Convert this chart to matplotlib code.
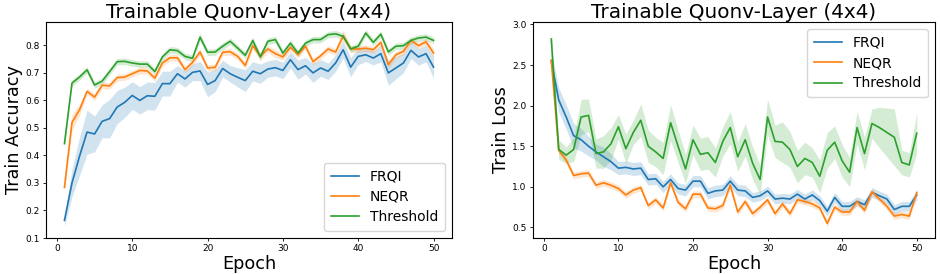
import numpy as np
import matplotlib
matplotlib.use("Agg")
import matplotlib.pyplot as plt

epochs = list(range(1, 51))
labels = ["FRQI", "NEQR", "Threshold"]
colors = ["#1f77b4", "#ff7f0e", "#2ca02c"]

acc_frqi = [0.164, 0.300, 0.397, 0.485, 0.478, 0.524, 0.534, 0.576, 0.593, 0.618,
            0.600, 0.617, 0.615, 0.661, 0.661, 0.697, 0.678, 0.702, 0.707, 0.658,
            0.672, 0.716, 0.697, 0.684, 0.672, 0.706, 0.697, 0.714, 0.719, 0.709,
            0.748, 0.712, 0.726, 0.700, 0.718, 0.706, 0.736, 0.784, 0.721, 0.760,
            0.766, 0.754, 0.770, 0.700, 0.718, 0.736, 0.782, 0.758, 0.770, 0.721]
acc_neqr = [0.284, 0.520, 0.566, 0.633, 0.612, 0.655, 0.653, 0.683, 0.685, 0.697,
            0.709, 0.707, 0.681, 0.736, 0.755, 0.755, 0.712, 0.738, 0.776, 0.718,
            0.720, 0.775, 0.777, 0.760, 0.727, 0.799, 0.760, 0.787, 0.770, 0.758,
            0.793, 0.766, 0.797, 0.741, 0.762, 0.787, 0.776, 0.835, 0.787, 0.787,
            0.790, 0.784, 0.811, 0.730, 0.766, 0.778, 0.818, 0.799, 0.813, 0.772]
acc_thr = [0.443, 0.663, 0.685, 0.711, 0.656, 0.670, 0.705, 0.741, 0.742, 0.736,
           0.732, 0.732, 0.705, 0.758, 0.784, 0.781, 0.760, 0.753, 0.830, 0.775,
           0.776, 0.797, 0.815, 0.790, 0.764, 0.818, 0.758, 0.815, 0.821, 0.772,
           0.808, 0.772, 0.808, 0.821, 0.821, 0.839, 0.842, 0.833, 0.787, 0.797,
           0.845, 0.811, 0.841, 0.776, 0.797, 0.799, 0.818, 0.827, 0.830, 0.818]
acc_frqi_ci = [0.02, 0.05, 0.07, 0.08, 0.065, 0.06, 0.07, 0.06, 0.055, 0.05,
               0.05, 0.05, 0.05, 0.045, 0.045, 0.03, 0.03, 0.03, 0.035, 0.045,
               0.04, 0.03, 0.03, 0.035, 0.04, 0.035, 0.035, 0.03, 0.03, 0.03,
               0.03, 0.035, 0.03, 0.035, 0.03, 0.03, 0.03, 0.03, 0.035, 0.03,
               0.025, 0.025, 0.03, 0.045, 0.04, 0.035, 0.03, 0.03, 0.03, 0.04]
acc_neqr_ci = [0.012, 0.03, 0.02, 0.012, 0.012, 0.012, 0.012, 0.012, 0.012, 0.012,
               0.012, 0.012, 0.012, 0.012, 0.012, 0.012, 0.012, 0.012, 0.012, 0.012,
               0.012, 0.012, 0.012, 0.012, 0.012, 0.012, 0.015, 0.012, 0.015, 0.012,
               0.012, 0.012, 0.012, 0.012, 0.012, 0.012, 0.012, 0.02, 0.012, 0.012,
               0.012, 0.012, 0.012, 0.015, 0.012, 0.012, 0.012, 0.012, 0.012, 0.015]
acc_thr_ci = [0.012] * 18 + [0.015] + [0.012] * 31

loss_frqi = [2.55, 2.07, 1.86, 1.63, 1.58, 1.50, 1.43, 1.37, 1.31, 1.23,
             1.24, 1.22, 1.23, 1.09, 1.10, 1.00, 1.09, 0.98, 0.96, 1.07,
             1.07, 0.92, 0.95, 0.96, 1.07, 0.96, 0.95, 0.87, 0.89, 0.95,
             0.85, 0.86, 0.85, 0.91, 0.85, 0.90, 0.83, 0.70, 0.87, 0.76,
             0.76, 0.82, 0.78, 0.93, 0.89, 0.85, 0.72, 0.76, 0.76, 0.90]
loss_neqr = [2.56, 1.45, 1.33, 1.14, 1.16, 1.17, 1.02, 1.05, 1.02, 0.98,
             0.90, 0.96, 0.99, 0.77, 0.84, 0.74, 1.05, 0.81, 0.73, 0.91,
             0.91, 0.74, 0.73, 0.77, 1.02, 0.69, 0.82, 0.67, 0.75, 0.84,
             0.67, 0.79, 0.67, 0.84, 0.82, 0.79, 0.74, 0.55, 0.75, 0.69,
             0.69, 0.82, 0.71, 0.94, 0.85, 0.76, 0.64, 0.66, 0.64, 0.93]
loss_thr = [2.82, 1.46, 1.39, 1.46, 1.86, 1.88, 1.41, 1.43, 1.53, 1.74,
            1.47, 1.67, 1.82, 1.50, 1.43, 1.35, 1.79, 1.50, 1.22, 1.58,
            1.40, 1.42, 1.30, 1.56, 1.73, 1.37, 1.58, 1.29, 1.09, 1.86,
            1.56, 1.55, 1.46, 1.25, 1.35, 1.30, 1.13, 1.45, 1.55, 1.32,
            1.18, 1.73, 1.41, 1.78, 1.73, 1.67, 1.61, 1.30, 1.27, 1.66]
loss_frqi_ci = [0.12, 0.15, 0.15, 0.15, 0.14, 0.12, 0.10, 0.12, 0.10, 0.08,
                0.08, 0.08, 0.08, 0.07, 0.07, 0.07, 0.07, 0.07, 0.07, 0.07,
                0.07, 0.07, 0.07, 0.07, 0.07, 0.07, 0.07, 0.06, 0.06, 0.06,
                0.06, 0.06, 0.06, 0.06, 0.06, 0.06, 0.06, 0.06, 0.06, 0.06,
                0.06, 0.06, 0.06, 0.06, 0.06, 0.06, 0.06, 0.06, 0.06, 0.06]
loss_neqr_ci = [0.04] * 50
loss_thr_ci = [0.10, 0.12, 0.10, 0.15, 0.22, 0.20, 0.18, 0.20, 0.20, 0.15,
               0.18, 0.15, 0.20, 0.20, 0.18, 0.20, 0.22, 0.20, 0.18, 0.18,
               0.20, 0.20, 0.18, 0.18, 0.20, 0.18, 0.20, 0.20, 0.18, 0.22,
               0.20, 0.25, 0.22, 0.20, 0.20, 0.18, 0.20, 0.22, 0.20, 0.20,
               0.18, 0.20, 0.20, 0.18, 0.25, 0.30, 0.35, 0.15, 0.15, 0.25]

fig = plt.figure(figsize=(9.4, 2.74), dpi=100)
W, H = 940, 274
ax1 = fig.add_axes([46 / W, 1 - 238 / H, (452 - 46) / W, (238 - 22) / H])
ax2 = fig.add_axes([533 / W, 1 - 238 / H, (935 - 533) / W, (238 - 22) / H])

x = np.array(epochs)

def draw(ax, series, cis, loc):
    for y, ci, lab, c in zip(series, cis, labels, colors):
        y = np.array(y)
        ci = np.array(ci)
        ax.fill_between(x, y - ci, y + ci, color=c, alpha=0.2, linewidth=0)
        ax.plot(x, y, color=c, lw=1.2, label=lab)
    ax.set_title("Trainable Quonv-Layer (4x4)", fontsize=14.4, pad=1)
    ax.set_xlabel("Epoch", fontsize=12.7, labelpad=1.5)
    ax.tick_params(labelsize=6.5, length=2.5, width=0.6, pad=2)
    for s in ax.spines.values():
        s.set_linewidth(0.8)
    ax.set_xticks([0, 10, 20, 30, 40, 50])
    ax.set_xlim(-1.45, 52.45)
    ax.legend(loc=loc, fontsize=10, handlelength=2.0, borderpad=0.5, labelspacing=0.45)

draw(ax1, [acc_frqi, acc_neqr, acc_thr], [acc_frqi_ci, acc_neqr_ci, acc_thr_ci], "lower right")
ax1.set_ylabel("Train Accuracy", fontsize=12.7, labelpad=2)
ax1.set_ylim(0.1, 0.885)
ax1.set_yticks([0.1, 0.2, 0.3, 0.4, 0.5, 0.6, 0.7, 0.8])

draw(ax2, [loss_frqi, loss_neqr, loss_thr], [loss_frqi_ci, loss_neqr_ci, loss_thr_ci], "upper right")
ax2.set_ylabel("Train Loss", fontsize=12.7, labelpad=2)
ax2.set_ylim(0.37, 3.03)
ax2.set_yticks([0.5, 1.0, 1.5, 2.0, 2.5, 3.0])

fig.savefig("out.png", dpi=100)
